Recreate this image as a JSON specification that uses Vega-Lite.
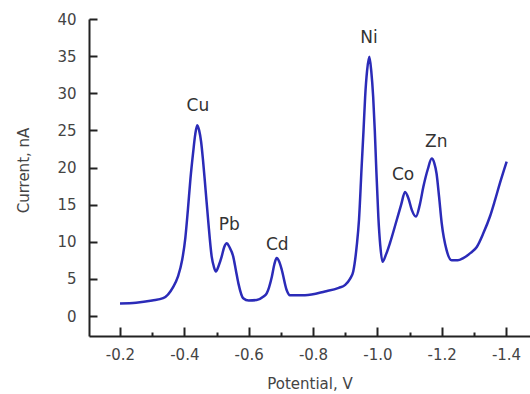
{
  "$schema": "https://vega.github.io/schema/vega-lite/v6.json",
  "width": 441,
  "height": 317,
  "autosize": {"type": "none"},
  "padding": {"left": 89, "top": 19, "right": 0, "bottom": 58},
  "background": "white",
  "config": {
    "view": {"stroke": null},
    "font": "DejaVu Sans",
    "axis": {
      "grid": false,
      "domainColor": "#222222",
      "domainWidth": 2,
      "tickColor": "#222222",
      "tickWidth": 2,
      "labelFont": "DejaVu Sans",
      "labelFontSize": 15,
      "labelColor": "#444444",
      "titleFont": "DejaVu Sans",
      "titleFontSize": 15,
      "titleFontWeight": "normal",
      "titleColor": "#444444"
    }
  },
  "datasets": {
    "curve": [
      {"v": -0.2, "i": 1.7}, {"v": -0.25, "i": 1.8}, {"v": -0.3, "i": 2.1}, {"v": -0.334, "i": 2.4},
      {"v": -0.365, "i": 3.9}, {"v": -0.38, "i": 5.3}, {"v": -0.393, "i": 7.5}, {"v": -0.403, "i": 10.5},
      {"v": -0.411, "i": 14.3}, {"v": -0.419, "i": 18.5}, {"v": -0.427, "i": 21.9}, {"v": -0.434, "i": 24.5},
      {"v": -0.44, "i": 25.7}, {"v": -0.446, "i": 25.0}, {"v": -0.452, "i": 23.5}, {"v": -0.458, "i": 21.0},
      {"v": -0.466, "i": 17.0}, {"v": -0.474, "i": 12.9}, {"v": -0.485, "i": 8.0}, {"v": -0.492, "i": 6.6},
      {"v": -0.498, "i": 6.0}, {"v": -0.507, "i": 6.8}, {"v": -0.516, "i": 8.0}, {"v": -0.524, "i": 9.3},
      {"v": -0.532, "i": 9.8}, {"v": -0.54, "i": 9.3}, {"v": -0.552, "i": 8.0}, {"v": -0.56, "i": 6.2},
      {"v": -0.568, "i": 4.4}, {"v": -0.583, "i": 2.4}, {"v": -0.6, "i": 2.1}, {"v": -0.625, "i": 2.15},
      {"v": -0.645, "i": 2.6}, {"v": -0.656, "i": 3.05}, {"v": -0.672, "i": 5.3}, {"v": -0.68, "i": 7.0},
      {"v": -0.687, "i": 7.8}, {"v": -0.695, "i": 7.3}, {"v": -0.703, "i": 6.2}, {"v": -0.718, "i": 3.5},
      {"v": -0.728, "i": 2.8}, {"v": -0.775, "i": 2.8}, {"v": -0.837, "i": 3.3}, {"v": -0.88, "i": 3.8},
      {"v": -0.9, "i": 4.2}, {"v": -0.915, "i": 5.0}, {"v": -0.925, "i": 6.0}, {"v": -0.936, "i": 9.5},
      {"v": -0.943, "i": 13.0}, {"v": -0.951, "i": 20.0}, {"v": -0.957, "i": 25.0}, {"v": -0.962, "i": 29.5},
      {"v": -0.968, "i": 33.0}, {"v": -0.975, "i": 34.9}, {"v": -0.981, "i": 33.0}, {"v": -0.987, "i": 29.5},
      {"v": -0.992, "i": 25.0}, {"v": -0.996, "i": 20.5}, {"v": -1.003, "i": 13.4}, {"v": -1.009, "i": 9.5},
      {"v": -1.016, "i": 7.3}, {"v": -1.027, "i": 8.3}, {"v": -1.039, "i": 9.8}, {"v": -1.06, "i": 12.9},
      {"v": -1.074, "i": 15.0}, {"v": -1.086, "i": 16.7}, {"v": -1.097, "i": 15.8}, {"v": -1.107, "i": 14.3},
      {"v": -1.12, "i": 13.4}, {"v": -1.132, "i": 15.0}, {"v": -1.143, "i": 17.4}, {"v": -1.157, "i": 19.8},
      {"v": -1.169, "i": 21.2}, {"v": -1.177, "i": 20.6}, {"v": -1.184, "i": 19.2}, {"v": -1.192, "i": 16.0},
      {"v": -1.2, "i": 12.5}, {"v": -1.215, "i": 8.9}, {"v": -1.231, "i": 7.5}, {"v": -1.25, "i": 7.5},
      {"v": -1.267, "i": 7.8}, {"v": -1.29, "i": 8.5}, {"v": -1.309, "i": 9.3}, {"v": -1.33, "i": 11.2},
      {"v": -1.35, "i": 13.4}, {"v": -1.365, "i": 15.5}, {"v": -1.381, "i": 17.9}, {"v": -1.402, "i": 20.8}
    ],
    "peaks": [
      {"v": -0.442, "i": 28.3, "label": "Cu"},
      {"v": -0.54, "i": 12.3, "label": "Pb"},
      {"v": -0.689, "i": 9.5, "label": "Cd"},
      {"v": -0.974, "i": 37.4, "label": "Ni"},
      {"v": -1.08, "i": 19.0, "label": "Co"},
      {"v": -1.183, "i": 23.4, "label": "Zn"}
    ]
  },
  "layer": [
    {
      "data": {"name": "curve"},
      "mark": {"type": "line", "color": "#2b2bb8", "strokeWidth": 2.5, "interpolate": "monotone"},
      "encoding": {
        "x": {
          "field": "v", "type": "quantitative",
          "scale": {"domain": [-1.4745, -0.1036], "reverse": true, "nice": false, "zero": false},
          "axis": {
            "title": "Potential, V",
            "values": [-0.2, -0.4, -0.6, -0.8, -1.0, -1.2, -1.4],
            "format": ".1f",
            "labelExpr": "replace(datum.label, '−', '-')",
            "tickSize": -9,
            "labelPadding": 20,
            "titleY": 52,
            "titleBaseline": "alphabetic"
          }
        },
        "y": {
          "field": "i", "type": "quantitative",
          "scale": {"domain": [-2.69, 40], "nice": false, "zero": false},
          "axis": {
            "title": "Current, nA",
            "values": [0, 5, 10, 15, 20, 25, 30, 35, 40],
            "tickSize": -8,
            "labelPadding": 21,
            "titleX": -61,
            "titleY": 151,
            "titleBaseline": "alphabetic",
            "titleAnchor": "middle"
          }
        }
      }
    },
    {
      "data": {"name": "peaks"},
      "mark": {"type": "text", "font": "DejaVu Sans", "fontSize": 17, "color": "#333333", "baseline": "middle", "align": "center"},
      "encoding": {
        "x": {
          "field": "v", "type": "quantitative",
          "axis": {
            "orient": "bottom",
            "values": [-0.3, -0.5, -0.7, -0.9, -1.1, -1.3],
            "labels": false,
            "domain": false,
            "tickSize": -4,
            "title": null
          }
        },
        "y": {
          "field": "i", "type": "quantitative",
          "axis": {
            "title": "Current, nA",
            "values": [0, 5, 10, 15, 20, 25, 30, 35, 40],
            "tickSize": -8,
            "labelPadding": 21,
            "titleX": -61,
            "titleY": 151,
            "titleBaseline": "alphabetic",
            "titleAnchor": "middle"
          }
        },
        "text": {"field": "label"}
      }
    }
  ],
  "resolve": {"axis": {"x": "independent"}}
}
